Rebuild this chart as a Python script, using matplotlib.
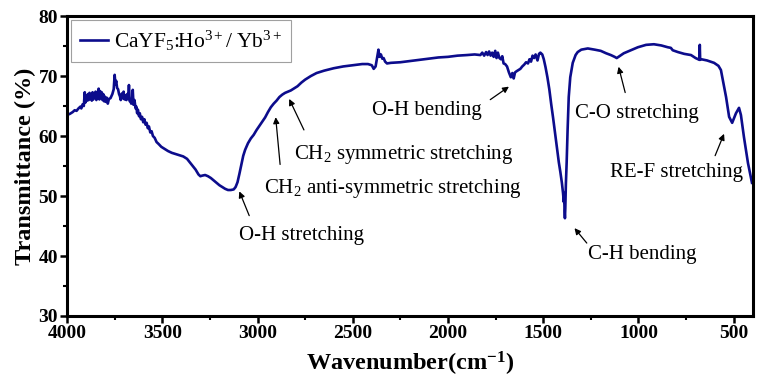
import matplotlib
matplotlib.use("Agg")
import matplotlib.pyplot as plt
from matplotlib.ticker import MultipleLocator

plt.rcParams['font.family'] = ['Liberation Serif', 'DejaVu Serif']
plt.rcParams['mathtext.fontset'] = 'custom'
plt.rcParams['mathtext.rm'] = 'Liberation Serif'
plt.rcParams['mathtext.it'] = 'Liberation Serif:italic'
plt.rcParams['mathtext.bf'] = 'Liberation Serif:bold'

# ---- data ----
wavenumber = [
    4000, 3985, 3970, 3960, 3950, 3940, 3930, 3925, 3918, 3912, 3907, 3903, 3898, 3894,
    3890, 3886, 3882, 3878, 3874, 3870, 3866, 3862, 3858, 3854, 3850, 3846, 3842, 3838,
    3834, 3830, 3826, 3822, 3818, 3814, 3810, 3806, 3802, 3797, 3792, 3786, 3780, 3772,
    3762, 3755, 3750, 3746, 3742, 3737, 3732, 3727, 3722, 3718, 3712, 3708, 3703, 3698,
    3694, 3688, 3684, 3679, 3675, 3671, 3667, 3663, 3658, 3655, 3651, 3646, 3640, 3636,
    3632, 3628, 3622, 3618, 3612, 3606, 3600, 3594, 3588, 3582, 3576, 3570, 3563, 3556,
    3549, 3540, 3530, 3520, 3505, 3490, 3470, 3450, 3430, 3410, 3390, 3370, 3355, 3340,
    3325, 3310, 3300, 3290, 3275, 3260, 3245, 3230, 3215, 3200, 3185, 3170, 3155, 3140,
    3125, 3115, 3105, 3095, 3085, 3075, 3065, 3050, 3035, 3020, 3005, 2990, 2975, 2960,
    2945, 2930, 2915, 2900, 2885, 2870, 2855, 2840, 2825, 2810, 2790, 2770, 2750, 2720,
    2690, 2650, 2600, 2550, 2500, 2450, 2420, 2400, 2390, 2380, 2370, 2365, 2360, 2352,
    2345, 2338, 2330, 2320, 2300, 2250, 2200, 2150, 2100, 2050, 2000, 1950, 1900, 1860,
    1830, 1820, 1810, 1800, 1792, 1784, 1776, 1768, 1760, 1752, 1745, 1738, 1730, 1722,
    1715, 1708, 1700, 1690, 1680, 1670, 1662, 1655, 1648, 1640, 1630, 1620, 1610, 1600,
    1590, 1580, 1572, 1564, 1556, 1548, 1540, 1530, 1522, 1515, 1505, 1497, 1488, 1478,
    1468, 1458, 1448, 1438, 1428, 1418, 1410, 1402, 1396, 1392, 1390, 1388, 1386, 1384,
    1381, 1377, 1372, 1366, 1358, 1345, 1330, 1319, 1300, 1266, 1230, 1198, 1170, 1145,
    1125, 1114, 1100, 1077, 1040, 1003, 960, 919, 880, 846, 830, 820, 793, 760,
    724, 700, 680, 678, 676, 670, 640, 603, 580, 567, 555, 540, 524, 508,
    498, 488, 472, 462, 446, 425, 404,
]
transmittance = [
    63.5, 63.7, 64.0, 64.3, 64.2, 64.6, 64.9, 64.6, 65.3, 65.0, 67.3, 65.6, 66.8, 65.9,
    67.0, 66.0, 67.2, 66.2, 67.0, 65.9, 67.3, 66.1, 67.1, 66.4, 67.4, 66.0, 67.2, 66.3,
    67.9, 66.1, 67.5, 66.5, 67.3, 66.0, 67.0, 65.8, 66.6, 65.7, 66.4, 65.4, 66.2, 66.3,
    67.0, 67.8, 70.2, 68.6, 69.2, 68.0, 67.8, 67.0, 66.6, 66.0, 67.1, 66.3, 67.4, 66.1,
    66.8, 66.0, 67.0, 66.2, 68.5, 65.8, 66.0, 65.4, 66.3, 67.7, 65.2, 66.0, 64.6, 64.9,
    63.8, 64.4, 63.3, 63.8, 62.8, 63.2, 62.3, 62.8, 61.9, 62.2, 61.3, 61.6, 60.6, 60.8,
    60.0, 59.7, 59.0, 58.7, 58.2, 57.9, 57.5, 57.2, 57.0, 56.8, 56.6, 56.2, 55.6, 55.0,
    54.4, 53.6, 53.3, 53.4, 53.5, 53.3, 53.0, 52.6, 52.2, 51.8, 51.5, 51.2, 51.0, 51.0,
    51.1, 51.5, 52.3, 53.7, 55.2, 56.7, 57.7, 58.8, 59.6, 60.2, 61.0, 61.7, 62.4, 63.1,
    64.0, 64.8, 65.4, 65.9, 66.5, 66.9, 67.2, 67.4, 67.6, 67.9, 68.3, 68.9, 69.4, 70.0,
    70.5, 70.9, 71.3, 71.6, 71.8, 72.0, 72.0, 71.8, 71.2, 71.6, 73.5, 74.4, 73.2, 73.6,
    72.9, 73.0, 72.4, 72.1, 72.2, 72.3, 72.5, 72.7, 72.9, 73.1, 73.2, 73.4, 73.5, 73.6,
    73.5, 73.9, 73.4, 74.0, 73.5, 74.1, 73.4, 73.9, 73.2, 74.2, 73.0, 73.9, 73.0, 72.8,
    73.3, 72.1, 72.0, 71.6, 70.6, 69.8, 70.5, 69.6, 70.6, 70.8, 71.0, 71.2, 71.6, 71.9,
    72.3, 72.1, 72.8, 72.4, 73.4, 73.0, 73.6, 72.6, 73.7, 73.9, 73.6, 72.8, 71.5, 69.8,
    67.8, 65.3, 63.0, 60.5, 58.0, 55.6, 54.0, 52.2, 50.5, 49.0, 50.5, 47.5, 46.3, 48.0,
    52.0, 55.5, 61.0, 66.5, 69.8, 72.2, 73.5, 74.0, 74.4, 74.6, 74.4, 74.2, 73.8, 73.5,
    73.2, 73.0, 73.3, 73.8, 74.3, 74.8, 75.2, 75.3, 75.1, 74.8, 74.7, 74.3, 74.0, 73.7,
    73.5, 73.0, 72.7, 75.2, 72.7, 72.8, 72.6, 72.2, 71.7, 71.0, 69.0, 66.5, 63.2, 62.2,
    63.0, 63.8, 64.7, 63.5, 59.8, 55.5, 52.2,
]
series_label = r'CaYF$_5$:Ho$^{3+}$/ Yb$^{3+}$'
x_label = r'Wavenumber(cm$^{\mathbf{-1}}$)'
y_label = 'Transmittance (%)'

# ---- figure ----
fig = plt.figure(figsize=(7.67, 3.87), dpi=100)
ax = fig.add_axes([0.0874, 0.1835, 0.894, 0.775])

ax.plot(wavenumber, transmittance, color='#0c0c8c', lw=1.9, label=series_label)

ax.set_xlim(4000, 400)
ax.set_ylim(30, 80)
ax.xaxis.set_major_locator(MultipleLocator(500))
ax.xaxis.set_minor_locator(MultipleLocator(250))
ax.yaxis.set_major_locator(MultipleLocator(10))
ax.yaxis.set_minor_locator(MultipleLocator(5))
ax.tick_params(which='major', direction='out', length=5, width=1.8, labelsize=14, pad=1.5)
ax.tick_params(which='minor', direction='out', length=3, width=1.5)
for lab in ax.get_xticklabels() + ax.get_yticklabels():
    lab.set_fontweight('bold')
for s in ax.spines.values():
    s.set_linewidth(2.2)

ax.set_xlabel(x_label, fontsize=17.5, fontweight='bold', labelpad=6)
ax.set_ylabel(y_label, fontsize=17.5, fontweight='bold', labelpad=2)

leg = ax.legend(loc='upper left', fontsize=15.5, frameon=True, fancybox=False,
                edgecolor='#888888', borderaxespad=0.2, handlelength=1.3,
                handletextpad=0.3, borderpad=0.4)
leg.get_frame().set_linewidth(0.8)

arrow = dict(arrowstyle='-|>', color='black', lw=0.9, mutation_scale=9)
notes = [
    ('O-H stretching', (3101, 51.2), (2770, 43.5), (3038, 46.3)),
    (r'CH$_2$ anti-symmetric stretching', (2906, 63.6), (2291, 51.2), (2880, 54.8)),
    (r'CH$_2$ symmetric stretching', (2840, 66.6), (2233, 57.0), (2750, 60.6)),
    ('O-H bending', (1668, 68.5), (2112, 64.3), (1790, 65.8)),
    ('C-O stretching', (1108, 72.0), (1008, 63.8), (1066, 66.8)),
    ('RE-F stretching', (545, 60.8), (798, 54.0), (603, 56.3)),
    ('C-H bending', (1345, 45.0), (982, 40.3), (1262, 41.8)),
]
for text, tip, tpos, tail in notes:
    ax.annotate('', xy=tip, xytext=tail, arrowprops=arrow)
    ax.text(tpos[0], tpos[1], text, fontsize=15, ha='center', va='center')

fig.savefig('out.png', dpi=100)
